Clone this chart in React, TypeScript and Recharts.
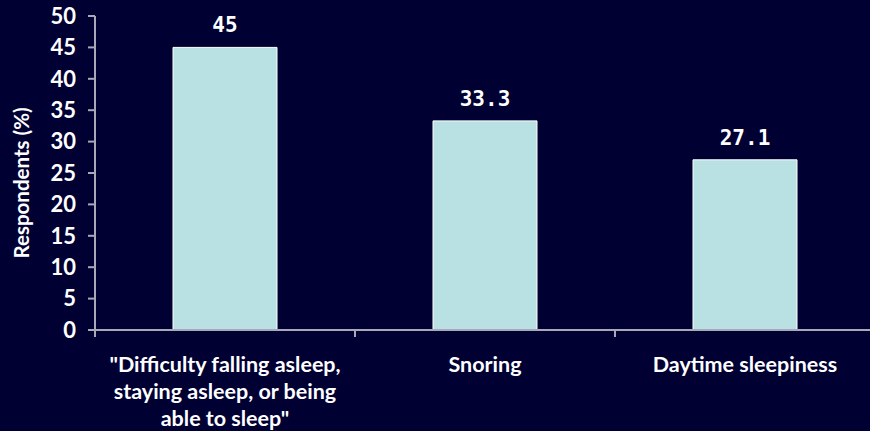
import React from "react";
import { BarChart, Bar, XAxis, YAxis, LabelList } from "recharts";

const categories = [
  '"Difficulty falling asleep, staying asleep, or being able to sleep"',
  "Snoring",
  "Daytime sleepiness",
];
const respondents = [45, 33.3, 27.1];
const yTicks = [0, 5, 10, 15, 20, 25, 30, 35, 40, 45, 50];

const chartData = categories.map((name, i) => ({ name, value: respondents[i] }));

const BG = "#000033";
const AXIS = "#a8a8b8";
const FONT = "Lato, 'Open Sans', sans-serif";

function wrap(text: string, max: number) {
  const words = text.split(" ");
  const lines: string[] = [];
  let cur = "";
  for (const w of words) {
    if (cur && (cur + " " + w).length > max) {
      lines.push(cur);
      cur = w;
    } else {
      cur = cur ? cur + " " + w : w;
    }
  }
  if (cur) lines.push(cur);
  return lines;
}

// category label plus a small tick mark at the left edge of each band
function CategoryTick(props: any) {
  const { x, y, payload, width, visibleTicksCount, index } = props;
  const band = width / (visibleTicksCount || 3);
  const lines = wrap(String(payload.value), 28);
  const left = x - band / 2;
  return (
    <g>
      {index > 0 && <line x1={left} x2={left} y1={y} y2={y + 7} stroke={AXIS} strokeWidth={2} />}
      {index === 0 && <line x1={left} x2={left} y1={y} y2={y + 7} stroke={AXIS} strokeWidth={2} />}
      <text x={x} y={y} textAnchor="middle" fill="#ffffff" fontFamily={FONT} fontWeight="bold" fontSize={21.5}>
        {lines.map((l, i) => (
          <tspan key={i} x={x} dy={i === 0 ? 42 : 27}>
            {l}
          </tspan>
        ))}
      </text>
    </g>
  );
}

export default function App() {
  return (
    <div style={{ position: "absolute", left: 0, top: 0, width: 870, height: 431, background: BG, overflow: "hidden" }}>
      <BarChart
        width={875}
        height={431}
        data={chartData}
        margin={{ top: 16, right: 0, left: 0, bottom: 0 }}
        barCategoryGap="30%"
      >
        <XAxis
          dataKey="name"
          interval={0}
          tick={<CategoryTick />}
          tickLine={false}
          tickSize={0}
          tickMargin={0}
          axisLine={{ stroke: AXIS, strokeWidth: 2 }}
          height={101}
        />
        <YAxis
          domain={[0, 50]}
          ticks={yTicks}
          interval={0}
          width={95}
          tickSize={7}
          tickMargin={12}
          tickLine={{ stroke: AXIS, strokeWidth: 2 }}
          axisLine={{ stroke: AXIS, strokeWidth: 2 }}
          tick={{ fill: "#ffffff", fontFamily: FONT, fontWeight: "bold", fontSize: 22 }}
          label={{
            value: "Respondents (%)",
            angle: -90,
            position: "insideLeft",
            offset: 0,
            dx: 22,
            dy: 10,
            style: { fill: "#ffffff", fontFamily: FONT, fontWeight: "bold", fontSize: 20.5, textAnchor: "middle" },
          }}
        />
        <Bar dataKey="value" fill="#b9e0e3" stroke="#ffffff" strokeWidth={1} isAnimationActive={false}>
          <LabelList
            dataKey="value"
            position="top"
            offset={15}
            fill="#ffffff"
            fontFamily="'DejaVu Sans Mono', monospace"
            fontWeight="bold"
            fontSize={21}
          />
        </Bar>
      </BarChart>
    </div>
  );
}
